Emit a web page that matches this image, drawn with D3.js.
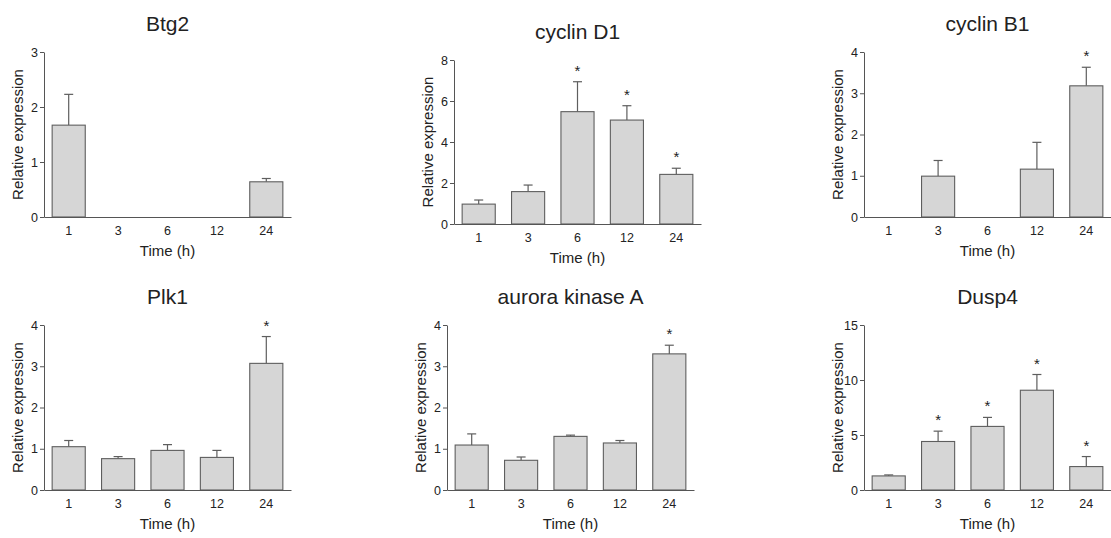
<!DOCTYPE html>
<html><head><meta charset="utf-8">
<script src="https://cdn.jsdelivr.net/npm/d3@7"></script>
<style>
html,body{margin:0;padding:0;background:#fff;}
text{font-family:"Liberation Sans",Arial,sans-serif;fill:#222;}
</style></head>
<body>
<svg id="chart" width="1111" height="538"></svg>
<script>
// ---- data ----
const times = ["1", "3", "6", "12", "24"];
const titles = ["Btg2", "cyclin D1", "cyclin B1", "Plk1", "aurora kinase A", "Dusp4"];
const yMax = [3, 8, 4, 4, 4, 15];
const yTicks = [[0,1,2,3],[0,2,4,6,8],[0,1,2,3,4],[0,1,2,3,4],[0,1,2,3,4],[0,5,10,15]];

const btg2Mean    = [1.67, null, null, null, 0.64];
const btg2Err     = [0.56, null, null, null, 0.06];
const btg2Star    = [0, 0, 0, 0, 0];

const cyclinD1Mean = [0.97, 1.58, 5.48, 5.07, 2.42];
const cyclinD1Err  = [0.20, 0.32, 1.46, 0.70, 0.30];
const cyclinD1Star = [0, 0, 1, 1, 1];

const cyclinB1Mean = [null, 0.99, null, 1.16, 3.18];
const cyclinB1Err  = [null, 0.38, null, 0.65, 0.45];
const cyclinB1Star = [0, 0, 0, 0, 1];

const plk1Mean = [1.05, 0.76, 0.96, 0.79, 3.07];
const plk1Err  = [0.15, 0.05, 0.14, 0.17, 0.65];
const plk1Star = [0, 0, 0, 0, 1];

const aurkaMean = [1.09, 0.72, 1.30, 1.14, 3.30];
const aurkaErr  = [0.27, 0.08, 0.03, 0.06, 0.21];
const aurkaStar = [0, 0, 0, 0, 1];

const dusp4Mean = [1.28, 4.41, 5.78, 9.07, 2.13];
const dusp4Err  = [0.09, 0.94, 0.82, 1.43, 0.91];
const dusp4Star = [0, 1, 1, 1, 1];

const means = [btg2Mean, cyclinD1Mean, cyclinB1Mean, plk1Mean, aurkaMean, dusp4Mean];
const errs  = [btg2Err, cyclinD1Err, cyclinB1Err, plk1Err, aurkaErr, dusp4Err];
const stars = [btg2Star, cyclinD1Star, cyclinB1Star, plk1Star, aurkaStar, dusp4Star];

// ---- layout ----
const layout = [
  {x: 44,  top: 52,  bottom: 217},
  {x: 454, top: 60,  bottom: 224},
  {x: 864, top: 52,  bottom: 217},
  {x: 44,  top: 325, bottom: 490},
  {x: 447, top: 325, bottom: 490},
  {x: 864, top: 325, bottom: 490}
];
const plotW = 247;
const axisColor = "#555";
const barFill = "#d6d6d6";
const barStroke = "#5e5e5e";
const fontFam = '"Liberation Sans",Arial,sans-serif';

const svg = d3.select("#chart");

titles.forEach((title, k) => {
  const L = layout[k];
  const g = svg.append("g");
  const x = d3.scaleBand().domain(times).range([L.x, L.x + plotW]).paddingInner(0.33).paddingOuter(0.165);
  const y = d3.scaleLinear().domain([0, yMax[k]]).range([L.bottom, L.top]);

  const data = times.map((t, i) => ({t, v: means[k][i], e: errs[k][i], s: stars[k][i]}));
  const shown = data.filter(d => d.v != null);

  // error bars (upper only)
  const eg = g.append("g").attr("stroke", barStroke).attr("stroke-width", 1.2);
  eg.selectAll("line.v").data(shown).join("line")
    .attr("x1", d => x(d.t) + x.bandwidth()/2).attr("x2", d => x(d.t) + x.bandwidth()/2)
    .attr("y1", d => y(d.v)).attr("y2", d => y(d.v + d.e));
  eg.selectAll("line.c").data(shown).join("line")
    .attr("x1", d => x(d.t) + x.bandwidth()/2 - 4.5).attr("x2", d => x(d.t) + x.bandwidth()/2 + 4.5)
    .attr("y1", d => y(d.v + d.e)).attr("y2", d => y(d.v + d.e));

  // bars
  g.selectAll("rect").data(shown).join("rect")
    .attr("x", d => x(d.t)).attr("width", x.bandwidth())
    .attr("y", d => y(d.v)).attr("height", d => y(0) - y(d.v))
    .attr("fill", barFill).attr("stroke", barStroke).attr("stroke-width", 1.1);

  // stars
  g.selectAll("text.star").data(shown.filter(d => d.s)).join("text")
    .attr("class", "star")
    .attr("x", d => x(d.t) + x.bandwidth()/2).attr("y", d => y(d.v + d.e) - 6)
    .attr("text-anchor", "middle").style("font-size", "15px").text("*");

  // y axis
  const ya = g.append("g").attr("transform", `translate(${L.x},0)`)
    .call(d3.axisLeft(y).tickValues(yTicks[k]).tickSize(4).tickSizeOuter(0).tickPadding(2).tickFormat(d3.format("d")));
  ya.select(".domain").attr("stroke", axisColor);
  ya.selectAll(".tick line").attr("stroke", axisColor);
  ya.selectAll(".tick text").style("font-size", "12.5px").style("font-family", fontFam).attr("fill", "#222");

  // x axis
  const xa = g.append("g").attr("transform", `translate(0,${L.bottom})`)
    .call(d3.axisBottom(x).tickSize(0).tickSizeOuter(0).tickPadding(9));
  xa.select(".domain").attr("stroke", axisColor);
  xa.selectAll(".tick text").style("font-size", "12.5px").style("font-family", fontFam).attr("fill", "#222");

  // titles
  g.append("text").attr("x", L.x + plotW/2).attr("y", L.top - 21)
    .attr("text-anchor", "middle").style("font-size", "21px").text(title);
  g.append("text").attr("x", L.x + plotW/2).attr("y", L.bottom + 39)
    .attr("text-anchor", "middle").style("font-size", "15px").text("Time (h)");
  g.append("text").attr("transform", `translate(${L.x - 21},${(L.top + L.bottom)/2}) rotate(-90)`)
    .attr("text-anchor", "middle").style("font-size", "15px").text("Relative expression");
});
</script>
</body></html>
